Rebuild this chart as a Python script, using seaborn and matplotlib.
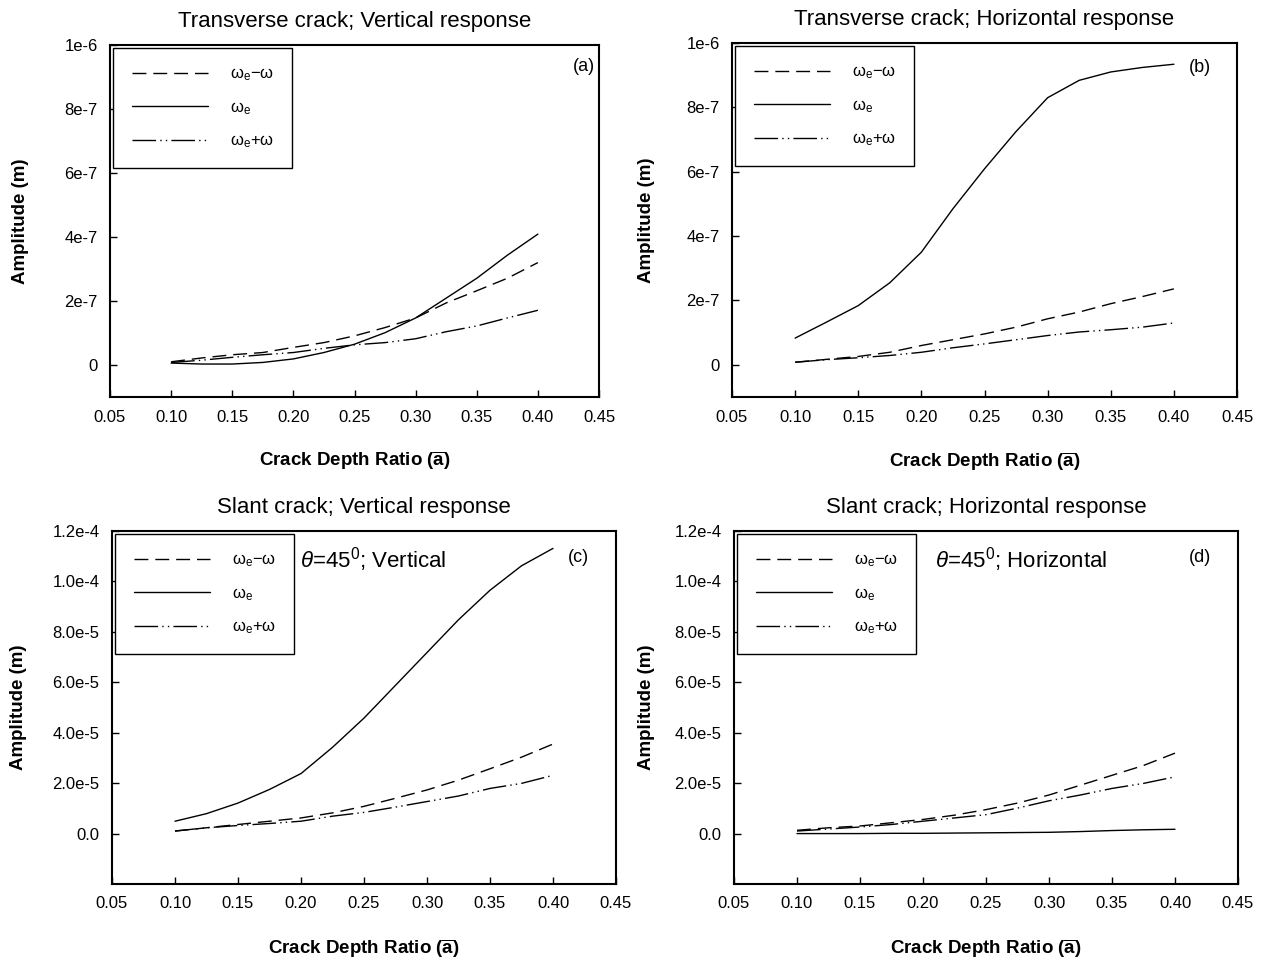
import numpy as np
import pandas as pd
import matplotlib
matplotlib.use("Agg")
import matplotlib.pyplot as plt
import seaborn as sns

# ---------------- data ----------------
crack_depth = [0.10, 0.125, 0.15, 0.175, 0.20, 0.225, 0.25, 0.275, 0.30, 0.325, 0.35, 0.375, 0.40]

# (a) Transverse crack; vertical response (m)
a_minus = [0.10e-7, 0.22e-7, 0.32e-7, 0.39e-7, 0.55e-7, 0.70e-7, 0.91e-7, 1.17e-7, 1.47e-7, 1.94e-7, 2.32e-7, 2.71e-7, 3.20e-7]
a_e     = [0.06e-7, 0.03e-7, 0.03e-7, 0.08e-7, 0.19e-7, 0.39e-7, 0.65e-7, 1.01e-7, 1.47e-7, 2.09e-7, 2.71e-7, 3.43e-7, 4.09e-7]
a_plus  = [0.08e-7, 0.15e-7, 0.24e-7, 0.32e-7, 0.39e-7, 0.52e-7, 0.63e-7, 0.70e-7, 0.82e-7, 1.04e-7, 1.22e-7, 1.47e-7, 1.71e-7]

# (b) Transverse crack; horizontal response (m)
b_minus = [0.08e-7, 0.17e-7, 0.26e-7, 0.39e-7, 0.60e-7, 0.78e-7, 0.96e-7, 1.17e-7, 1.43e-7, 1.64e-7, 1.90e-7, 2.12e-7, 2.36e-7]
b_e     = [0.83e-7, 1.33e-7, 1.84e-7, 2.55e-7, 3.50e-7, 4.85e-7, 6.09e-7, 7.25e-7, 8.30e-7, 8.84e-7, 9.10e-7, 9.24e-7, 9.34e-7]
b_plus  = [0.08e-7, 0.16e-7, 0.22e-7, 0.29e-7, 0.39e-7, 0.53e-7, 0.65e-7, 0.78e-7, 0.91e-7, 1.02e-7, 1.09e-7, 1.17e-7, 1.30e-7]

# (c) Slant crack; vertical response (m)
c_minus = [0.10e-5, 0.23e-5, 0.36e-5, 0.49e-5, 0.62e-5, 0.82e-5, 1.08e-5, 1.40e-5, 1.73e-5, 2.12e-5, 2.57e-5, 3.03e-5, 3.55e-5]
c_e     = [0.49e-5, 0.79e-5, 1.21e-5, 1.75e-5, 2.38e-5, 3.42e-5, 4.58e-5, 5.88e-5, 7.18e-5, 8.48e-5, 9.65e-5, 10.62e-5, 11.31e-5]
c_plus  = [0.10e-5, 0.23e-5, 0.32e-5, 0.40e-5, 0.49e-5, 0.69e-5, 0.84e-5, 1.05e-5, 1.27e-5, 1.49e-5, 1.79e-5, 1.99e-5, 2.31e-5]

# (d) Slant crack; horizontal response (m)
d_minus = [0.13e-5, 0.23e-5, 0.30e-5, 0.43e-5, 0.56e-5, 0.73e-5, 0.95e-5, 1.21e-5, 1.53e-5, 1.92e-5, 2.31e-5, 2.70e-5, 3.19e-5]
d_e     = [0.00e-5, 0.00e-5, 0.00e-5, 0.01e-5, 0.01e-5, 0.02e-5, 0.03e-5, 0.04e-5, 0.05e-5, 0.08e-5, 0.12e-5, 0.15e-5, 0.17e-5]
d_plus  = [0.10e-5, 0.18e-5, 0.26e-5, 0.36e-5, 0.49e-5, 0.62e-5, 0.75e-5, 1.01e-5, 1.30e-5, 1.53e-5, 1.79e-5, 1.99e-5, 2.25e-5]

x_ticks = [0.05, 0.10, 0.15, 0.20, 0.25, 0.30, 0.35, 0.40, 0.45]
x_ticklabels = ["0.05", "0.10", "0.15", "0.20", "0.25", "0.30", "0.35", "0.40", "0.45"]
top_yticks = [0, 2e-7, 4e-7, 6e-7, 8e-7, 1e-6]
top_yticklabels = ["0", "2e-7", "4e-7", "6e-7", "8e-7", "1e-6"]
bot_yticks = [0, 2e-5, 4e-5, 6e-5, 8e-5, 1.0e-4, 1.2e-4]
bot_yticklabels = ["0.0", "2.0e-5", "4.0e-5", "6.0e-5", "8.0e-5", "1.0e-4", "1.2e-4"]

titles = ["Transverse crack; Vertical response", "Transverse crack; Horizontal response",
          "Slant crack; Vertical response", "Slant crack; Horizontal response"]
panel_tags = ["(a)", "(b)", "(c)", "(d)"]
series_labels = ["ω$_{\\mathrm{e}}$−ω", "ω$_{\\mathrm{e}}$", "ω$_{\\mathrm{e}}$+ω"]

# ---------------- style ----------------
sns.set_style("ticks")
plt.rcParams["font.family"] = ["Liberation Sans", "DejaVu Sans"]
plt.rcParams["mathtext.fontset"] = "custom"
plt.rcParams["mathtext.rm"] = "Liberation Sans"
plt.rcParams["mathtext.it"] = "Liberation Sans:italic"
plt.rcParams["mathtext.bf"] = "Liberation Sans:bold"
plt.rcParams["axes.unicode_minus"] = False
for key in ["text.color", "axes.labelcolor", "xtick.color", "ytick.color", "axes.edgecolor"]:
    plt.rcParams[key] = "black"

W, H = 1270, 959
fig = plt.figure(figsize=(W / 100, H / 100), dpi=100)

def px_rect(l, r, t, b):
    return [l / W, 1 - b / H, (r - l) / W, (b - t) / H]

rects = [px_rect(110, 599, 45, 397), px_rect(732, 1237, 43, 397),
         px_rect(112, 616, 531, 884), px_rect(734, 1238, 531, 884)]

panels = [(a_minus, a_e, a_plus), (b_minus, b_e, b_plus),
          (c_minus, c_e, c_plus), (d_minus, d_e, d_plus)]

styles = [(0, (10, 5)), "-", (0, (17, 3, 1, 3, 1, 3))]
ylabel_x = [-0.166, -0.152, -0.169, -0.157]
tag_pos = [(0.969, 0.94), (0.927, 0.932), (0.925, 0.926), (0.925, 0.926)]
theta_text = [None, None, r"$\theta$=45$^0$; Vertical", r"$\theta$=45$^0$; Horizontal"]
theta_x = [None, None, 0.373, 0.399]

for i, (rect, series) in enumerate(zip(rects, panels)):
    ax = fig.add_axes(rect)
    df = pd.DataFrame({"x": crack_depth * 3,
                       "y": list(series[0]) + list(series[1]) + list(series[2]),
                       "s": [series_labels[0]] * 13 + [series_labels[1]] * 13 + [series_labels[2]] * 13})
    for k, lab in enumerate(series_labels):
        sub = df[df["s"] == lab]
        sns.lineplot(data=sub, x="x", y="y", ax=ax, color="black", lw=1.0,
                     linestyle=styles[k], label=lab)
    ax.set_xlim(0.05, 0.45)
    ax.set_xticks(x_ticks)
    ax.set_xticklabels(x_ticklabels)
    if i < 2:
        ax.set_ylim(-1e-7, 1e-6)
        ax.set_yticks(top_yticks)
        ax.set_yticklabels(top_yticklabels)
    else:
        ax.set_ylim(-2e-5, 1.2e-4)
        ax.set_yticks(bot_yticks)
        ax.set_yticklabels(bot_yticklabels)
    ax.tick_params(direction="in", length=5, width=1, labelsize=12, pad=9,
                   top=False, right=False, colors="black")
    for sp in ax.spines.values():
        sp.set_visible(True)
        sp.set_linewidth(1.5)
        sp.set_color("black")
    ax.set_title(titles[i], fontsize=16, pad=13, color="black")
    ax.set_xlabel(r"Crack Depth Ratio ($\overline{\mathbf{a}}$)", fontsize=13.5, fontweight="bold")
    ax.set_ylabel("Amplitude (m)", fontsize=13.5, fontweight="bold")
    ax.xaxis.set_label_coords(0.5, -0.15)
    ax.yaxis.set_label_coords(ylabel_x[i], 0.5)
    ax.text(tag_pos[i][0], tag_pos[i][1], panel_tags[i], transform=ax.transAxes,
            ha="center", va="center", fontsize=13)
    if theta_text[i]:
        ax.text(theta_x[i], 0.918, theta_text[i], transform=ax.transAxes,
                ha="left", va="center", fontsize=16)
    leg = ax.legend(loc="upper left", fontsize=12, handlelength=4.6, handletextpad=1.3,
                    labelspacing=1.0, borderpad=1.1, borderaxespad=0.2,
                    frameon=True, fancybox=False, framealpha=1, edgecolor="black")
    leg.get_frame().set_linewidth(1.0)

fig.savefig("out.png", dpi=100, facecolor="white")
